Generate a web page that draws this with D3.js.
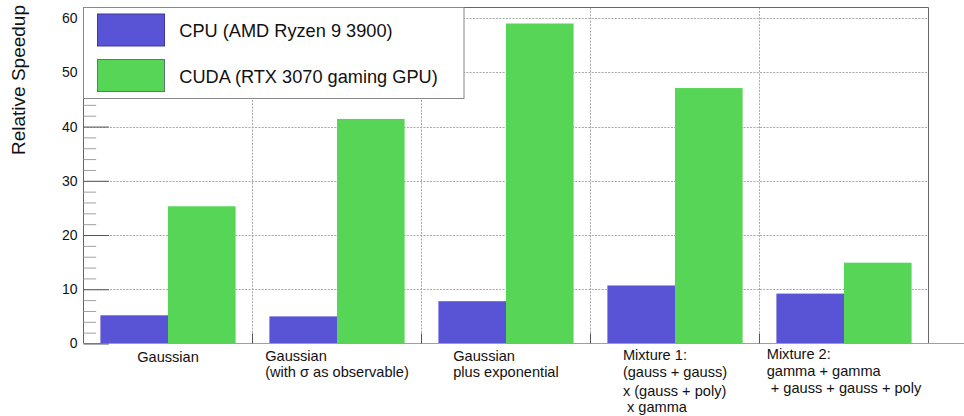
<!DOCTYPE html>
<html>
<head>
<meta charset="utf-8">
<script src="https://cdn.jsdelivr.net/npm/d3@7"></script>
<style>
  html, body { margin: 0; padding: 0; background: #fff; }
  svg { display: block; font-family: "Liberation Sans", Arial, Helvetica, sans-serif; }
  text { white-space: pre; }
</style>
</head>
<body>
<svg id="chart" width="964" height="416"></svg>
<script>
// Benchmark categories (multi-line axis labels)
const categories = ["gauss", "gaussSigma", "gaussExp", "mixture1", "mixture2"];
const categoryLines = [
  ["Gaussian"],
  ["Gaussian", "(with σ as observable)"],
  ["Gaussian", "plus exponential"],
  ["Mixture 1:", "(gauss + gauss)", "x (gauss + poly)", " x gamma"],
  ["Mixture 2:", "gamma + gamma", " + gauss + gauss + poly"]
];
// Speedup relative to the scalar reference
const cpuSpeedup  = [5.2, 5.0, 7.8, 10.7, 9.2];
const cudaSpeedup = [25.3, 41.4, 59.0, 47.1, 14.9];
const seriesNames = ["CPU (AMD Ryzen 9 3900)", "CUDA (RTX 3070 gaming GPU)"];
const yTicks = [0, 10, 20, 30, 40, 50, 60];
const yTitle = "Relative Speedup";

const colors = ["#5953d6", "#57d557"];
const frame = { left: 83.5, right: 928.5, top: 7.5, bottom: 343.5 };

const svg = d3.select("#chart");
const W = frame.right - frame.left, H = frame.bottom - frame.top;

const yMax = d3.max(cudaSpeedup.concat(cpuSpeedup)) * 1.05;
const x = d3.scaleBand().domain(categories).range([frame.left, frame.right]).padding(0);
const sub = d3.scaleBand().domain([0, 1]).range([0.1 * x.bandwidth(), 0.9 * x.bandwidth()]).padding(0);
const y = d3.scaleLinear().domain([0, yMax]).range([frame.bottom, frame.top]);

const gridStyle = g => g.attr("stroke", "#a8a8a8").attr("stroke-width", 1).attr("stroke-dasharray", "2,1.3");

// grid
const grid = svg.append("g");
grid.selectAll("line.h").data(yTicks.filter(d => d > 0)).join("line")
  .attr("x1", frame.left).attr("x2", frame.right)
  .attr("y1", d => Math.round(y(d)) + 0.5).attr("y2", d => Math.round(y(d)) + 0.5)
  .call(gridStyle);
const edges = categories.slice(1).map(c => x(c));
grid.selectAll("line.v").data(edges).join("line")
  .attr("x1", d => d).attr("x2", d => d)
  .attr("y1", frame.top).attr("y2", frame.bottom)
  .call(gridStyle);

// bars
const series = [cpuSpeedup, cudaSpeedup];
series.forEach((vals, s) => {
  svg.append("g").selectAll("rect").data(vals).join("rect")
    .attr("x", (d, i) => x(categories[i]) + sub(s))
    .attr("width", sub.bandwidth())
    .attr("y", d => y(d))
    .attr("height", d => y(0) - y(d))
    .attr("fill", colors[s]);
});

// frame (left, top, right) and bottom axis line
svg.append("path")
  .attr("d", `M${frame.left},${frame.bottom}V${frame.top}H${frame.right}V${frame.bottom}`)
  .attr("fill", "none").attr("stroke", "#666").attr("stroke-width", 1);
svg.append("line")
  .attr("x1", frame.left).attr("x2", 964).attr("y1", frame.bottom).attr("y2", frame.bottom)
  .attr("stroke", "#b8959b").attr("stroke-width", 1);

// y axis: major ticks with labels, minor ticks inward
const minor = d3.range(2, yMax, 2).filter(v => v % 10 !== 0);
svg.append("g")
  .attr("transform", `translate(${frame.left},0)`)
  .call(d3.axisLeft(y).tickValues(minor).tickSizeInner(-0.015 * W).tickSizeOuter(0).tickFormat(""))
  .call(g => g.select(".domain").remove())
  .call(g => g.selectAll(".tick line").attr("stroke", "#a0a0a0"));
const yAxis = svg.append("g")
  .attr("transform", `translate(${frame.left},0)`)
  .call(d3.axisLeft(y).tickValues(yTicks).tickSizeInner(-0.03 * W).tickSizeOuter(0).tickPadding(6).tickFormat(d3.format("d")));
yAxis.select(".domain").remove();
yAxis.selectAll(".tick line").attr("stroke", "#555");
yAxis.selectAll(".tick text").attr("font-size", 14).attr("fill", "#111")
  .attr("font-family", "'Liberation Sans', Arial, sans-serif");

// x ticks at bin edges
svg.append("g").selectAll("line").data(edges).join("line")
  .attr("x1", d => d).attr("x2", d => d)
  .attr("y1", frame.bottom).attr("y2", frame.bottom - 0.03 * H)
  .attr("stroke", "#555");

// y axis title
svg.append("text")
  .attr("transform", `translate(25,5) rotate(-90)`)
  .attr("text-anchor", "end")
  .attr("font-size", 19)
  .attr("fill", "#111")
  .text(yTitle);

// category labels: lines left-aligned, block centered on the bin
const lineOffsets = [
  [361.5],
  [360.5, 377],
  [360.5, 377],
  [359.5, 376.5, 395.5, 411.5],
  [359, 375.5, 393]
];
categoryLines.forEach((lines, i) => {
  const g = svg.append("g");
  const texts = g.selectAll("text").data(lines).join("text")
    .attr("font-size", 14.6).attr("fill", "#111")
    .attr("y", (d, j) => lineOffsets[i][j])
    .text(d => d);
  const maxW = d3.max(texts.nodes(), n => n.getComputedTextLength());
  const cx = x(categories[i]) + x.bandwidth() / 2;
  texts.attr("x", cx - maxW / 2);
});

// legend
const legend = svg.append("g");
legend.append("rect")
  .attr("x", frame.left).attr("y", frame.top)
  .attr("width", 464 - frame.left).attr("height", 98.5 - frame.top)
  .attr("fill", "#fff").attr("stroke", "#888");
const legendRows = [14, 59.5];
const legendBase = [36.7, 82.7];
seriesNames.forEach((name, s) => {
  legend.append("rect")
    .attr("x", 97.5).attr("y", legendRows[s])
    .attr("width", 67).attr("height", 32)
    .attr("fill", colors[s]).attr("stroke", s === 0 ? "#3c389c" : "#5a7a70");
  legend.append("text")
    .attr("x", 179.3).attr("y", legendBase[s])
    .attr("font-size", 18.2).attr("fill", "#111")
    .text(name);
});
</script>
</body>
</html>
